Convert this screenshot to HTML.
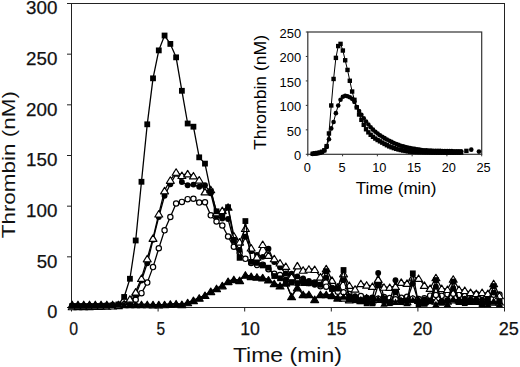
<!DOCTYPE html>
<html><head><meta charset="utf-8"><title>Thrombin generation</title>
<style>html,body{margin:0;padding:0;background:#fff;width:520px;height:367px;overflow:hidden}svg{display:block}text{font-family:"Liberation Sans",sans-serif}</style>
</head><body>
<svg width="520" height="367" viewBox="0 0 520 367" font-family="Liberation Sans, sans-serif" fill="#000">
<rect width="520" height="367" fill="#fff"/>
<rect x="71.5" y="3.5" width="433.0" height="304.0" fill="none" stroke="#222" stroke-width="1"/><line x1="67" y1="307.5" x2="71.5" y2="307.5" stroke="#222" stroke-width="1"/><line x1="67" y1="256.83" x2="71.5" y2="256.83" stroke="#222" stroke-width="1"/><line x1="67" y1="206.17" x2="71.5" y2="206.17" stroke="#222" stroke-width="1"/><line x1="67" y1="155.5" x2="71.5" y2="155.5" stroke="#222" stroke-width="1"/><line x1="67" y1="104.83" x2="71.5" y2="104.83" stroke="#222" stroke-width="1"/><line x1="67" y1="54.17" x2="71.5" y2="54.17" stroke="#222" stroke-width="1"/><line x1="67" y1="3.5" x2="71.5" y2="3.5" stroke="#222" stroke-width="1"/><line x1="71.5" y1="307.5" x2="71.5" y2="311.5" stroke="#222" stroke-width="1"/><line x1="158.1" y1="307.5" x2="158.1" y2="311.5" stroke="#222" stroke-width="1"/><line x1="244.7" y1="307.5" x2="244.7" y2="311.5" stroke="#222" stroke-width="1"/><line x1="331.3" y1="307.5" x2="331.3" y2="311.5" stroke="#222" stroke-width="1"/><line x1="417.9" y1="307.5" x2="417.9" y2="311.5" stroke="#222" stroke-width="1"/><line x1="504.5" y1="307.5" x2="504.5" y2="311.5" stroke="#222" stroke-width="1"/>
<polyline points="72.19,304.46 77.97,304.46 83.74,304.46 89.51,304.46 95.29,304.46 101.06,304.46 106.83,304.46 112.61,304.46 118.38,304.46 124.15,304.46 129.93,304.46 135.7,304.46 141.47,304.46 147.25,304.49 153.02,304.54 158.79,304.56 164.57,304.5 170.34,304.05 176.11,303.71 181.89,304.41 187.66,302.51 193.43,300.38 199.21,297.93 204.98,295.24 210.75,291.3 216.53,288.43 222.3,285.54 228.07,281.3 233.85,279.43 239.62,280.34 245.39,274.99 251.17,276.37 256.94,276.97 262.71,277.67 268.49,279.76 274.26,283.44 280.03,285.71 285.81,282.83 291.58,296.45 297.35,287.66 303.13,294.43 308.9,294.43 314.67,299.29 320.45,294.43 326.22,294.43 331.99,295.34 337.77,297.89 343.54,297.84 349.31,299.56 355.09,297.36 360.86,300.41 366.63,297.71 372.41,299.55 378.18,299.13 383.95,298.57 389.73,299.63 395.5,300.57 401.27,301.06 407.05,301.53 412.82,298.9 418.59,300.14 424.37,301.33 430.14,298.45 435.91,300.95 441.69,300.42 447.46,300.93 453.23,299.62 459.01,299.86 464.78,299.81 470.55,301.2 476.33,301.15 482.1,301.31 487.87,301.03 493.65,301.8 499.42,301.74" fill="none" stroke="#000" stroke-width="1.3" stroke-linejoin="round"/><g fill="#fff" stroke="#000" stroke-width="1.2" stroke-linejoin="round"><path d="M72.19,301.22L76.14,307.7L68.24,307.7Z"/><path d="M77.97,301.22L81.92,307.7L74.02,307.7Z"/><path d="M83.74,301.22L87.69,307.7L79.79,307.7Z"/><path d="M89.51,301.22L93.46,307.7L85.56,307.7Z"/><path d="M95.29,301.22L99.24,307.7L91.34,307.7Z"/><path d="M101.06,301.22L105.01,307.7L97.11,307.7Z"/><path d="M106.83,301.22L110.78,307.7L102.88,307.7Z"/><path d="M112.61,301.22L116.56,307.7L108.66,307.7Z"/><path d="M118.38,301.22L122.33,307.7L114.43,307.7Z"/><path d="M124.15,301.22L128.1,307.7L120.2,307.7Z"/><path d="M129.93,301.22L133.88,307.7L125.98,307.7Z"/><path d="M135.7,301.22L139.65,307.7L131.75,307.7Z"/><path d="M141.47,301.22L145.42,307.7L137.52,307.7Z"/><path d="M147.25,301.25L151.2,307.73L143.3,307.73Z"/><path d="M153.02,301.3L156.97,307.78L149.07,307.78Z"/><path d="M158.79,301.32L162.74,307.8L154.84,307.8Z"/><path d="M164.57,301.26L168.52,307.74L160.62,307.74Z"/><path d="M170.34,300.81L174.29,307.29L166.39,307.29Z"/><path d="M176.11,300.47L180.06,306.95L172.16,306.95Z"/><path d="M181.89,301.17L185.84,307.65L177.94,307.65Z"/><path d="M187.66,299.27L191.61,305.75L183.71,305.75Z"/><path d="M193.43,297.14L197.38,303.62L189.48,303.62Z"/><path d="M199.21,294.69L203.16,301.17L195.26,301.17Z"/><path d="M204.98,292.01L208.93,298.48L201.03,298.48Z"/><path d="M210.75,288.06L214.7,294.54L206.8,294.54Z"/><path d="M216.53,285.2L220.48,291.67L212.58,291.67Z"/><path d="M222.3,282.3L226.25,288.78L218.35,288.78Z"/><path d="M228.07,278.06L232.02,284.54L224.12,284.54Z"/><path d="M233.85,276.19L237.8,282.67L229.9,282.67Z"/><path d="M239.62,277.1L243.57,283.58L235.67,283.58Z"/><path d="M245.39,271.75L249.34,278.23L241.44,278.23Z"/><path d="M251.17,273.13L255.12,279.61L247.22,279.61Z"/><path d="M256.94,273.73L260.89,280.21L252.99,280.21Z"/><path d="M262.71,274.43L266.66,280.91L258.76,280.91Z"/><path d="M268.49,276.52L272.44,283L264.54,283Z"/><path d="M274.26,280.2L278.21,286.68L270.31,286.68Z"/><path d="M280.03,282.47L283.98,288.95L276.08,288.95Z"/><path d="M285.81,279.59L289.76,286.07L281.86,286.07Z"/><path d="M291.58,293.21L295.53,299.69L287.63,299.69Z"/><path d="M297.35,284.42L301.3,290.89L293.4,290.89Z"/><path d="M303.13,291.19L307.08,297.67L299.18,297.67Z"/><path d="M308.9,291.19L312.85,297.67L304.95,297.67Z"/><path d="M314.67,296.05L318.62,302.53L310.72,302.53Z"/><path d="M320.45,291.19L324.4,297.67L316.5,297.67Z"/><path d="M326.22,291.19L330.17,297.67L322.27,297.67Z"/><path d="M331.99,292.1L335.94,298.58L328.04,298.58Z"/><path d="M337.77,294.65L341.72,301.12L333.82,301.12Z"/><path d="M343.54,294.6L347.49,301.08L339.59,301.08Z"/><path d="M349.31,296.32L353.26,302.8L345.36,302.8Z"/><path d="M355.09,294.13L359.04,300.6L351.14,300.6Z"/><path d="M360.86,297.17L364.81,303.64L356.91,303.64Z"/><path d="M366.63,294.47L370.58,300.95L362.68,300.95Z"/><path d="M372.41,296.31L376.36,302.79L368.46,302.79Z"/><path d="M378.18,295.89L382.13,302.37L374.23,302.37Z"/><path d="M383.95,295.33L387.9,301.81L380,301.81Z"/><path d="M389.73,296.39L393.68,302.87L385.78,302.87Z"/><path d="M395.5,297.33L399.45,303.81L391.55,303.81Z"/><path d="M401.27,297.82L405.22,304.29L397.32,304.29Z"/><path d="M407.05,298.29L411,304.77L403.1,304.77Z"/><path d="M412.82,295.66L416.77,302.14L408.87,302.14Z"/><path d="M418.59,296.9L422.54,303.38L414.64,303.38Z"/><path d="M424.37,298.09L428.32,304.57L420.42,304.57Z"/><path d="M430.14,295.21L434.09,301.69L426.19,301.69Z"/><path d="M435.91,297.71L439.86,304.18L431.96,304.18Z"/><path d="M441.69,297.18L445.64,303.66L437.74,303.66Z"/><path d="M447.46,297.7L451.41,304.17L443.51,304.17Z"/><path d="M453.23,296.38L457.18,302.86L449.28,302.86Z"/><path d="M459.01,296.62L462.96,303.1L455.06,303.1Z"/><path d="M464.78,296.57L468.73,303.05L460.83,303.05Z"/><path d="M470.55,297.96L474.5,304.44L466.6,304.44Z"/><path d="M476.33,297.91L480.28,304.39L472.38,304.39Z"/><path d="M482.1,298.07L486.05,304.55L478.15,304.55Z"/><path d="M487.87,297.8L491.82,304.27L483.92,304.27Z"/><path d="M493.65,298.56L497.6,305.04L489.7,305.04Z"/><path d="M499.42,298.5L503.37,304.98L495.47,304.98Z"/></g><polyline points="72.19,306.49 77.97,306.47 83.74,306.43 89.51,306.36 95.29,306.25 101.06,306.11 106.83,305.94 112.61,305.72 118.38,305.47 124.15,304.5 129.93,302.41 135.7,299.75 141.47,293.13 147.25,282.61 153.02,267.12 158.79,248.22 164.57,230.33 170.34,217.04 176.11,203.43 181.89,201.92 187.66,199.17 193.43,198.78 199.21,202.6 204.98,202.21 210.75,215.34 216.53,221.52 222.3,225.53 228.07,236.57 233.85,246.78 239.62,252.72 245.39,258.86 251.17,262.94 256.94,264.94 262.71,264.86 268.49,269.2 274.26,273.87 280.03,275.03 285.81,275.02 291.58,276.49 297.35,280.64 303.13,281.34 308.9,282.96 314.67,282.41 320.45,286.23 326.22,286.66 331.99,287.89 337.77,291.63 343.54,292.2 349.31,294.1 355.09,297.45 360.86,296.1 366.63,297.89 372.41,297.73 378.18,298.63 383.95,297.09 389.73,298.11 395.5,299.26 401.27,297.69 407.05,296.74 412.82,298.66 418.59,299 424.37,298.19 430.14,295.65 435.91,295.07 441.69,295.83 447.46,294.32 453.23,293.66 459.01,294.89 464.78,295.98 470.55,293.7 476.33,294.09 482.1,294.89 487.87,295.44 493.65,294.71 499.42,294.45" fill="none" stroke="#000" stroke-width="1.3" stroke-linejoin="round"/><g fill="#fff" stroke="#000" stroke-width="1.2"><circle cx="72.19" cy="306.49" r="2.65"/><circle cx="77.97" cy="306.47" r="2.65"/><circle cx="83.74" cy="306.43" r="2.65"/><circle cx="89.51" cy="306.36" r="2.65"/><circle cx="95.29" cy="306.25" r="2.65"/><circle cx="101.06" cy="306.11" r="2.65"/><circle cx="106.83" cy="305.94" r="2.65"/><circle cx="112.61" cy="305.72" r="2.65"/><circle cx="118.38" cy="305.47" r="2.65"/><circle cx="124.15" cy="304.5" r="2.65"/><circle cx="129.93" cy="302.41" r="2.65"/><circle cx="135.7" cy="299.75" r="2.65"/><circle cx="141.47" cy="293.13" r="2.65"/><circle cx="147.25" cy="282.61" r="2.65"/><circle cx="153.02" cy="267.12" r="2.65"/><circle cx="158.79" cy="248.22" r="2.65"/><circle cx="164.57" cy="230.33" r="2.65"/><circle cx="170.34" cy="217.04" r="2.65"/><circle cx="176.11" cy="203.43" r="2.65"/><circle cx="181.89" cy="201.92" r="2.65"/><circle cx="187.66" cy="199.17" r="2.65"/><circle cx="193.43" cy="198.78" r="2.65"/><circle cx="199.21" cy="202.6" r="2.65"/><circle cx="204.98" cy="202.21" r="2.65"/><circle cx="210.75" cy="215.34" r="2.65"/><circle cx="216.53" cy="221.52" r="2.65"/><circle cx="222.3" cy="225.53" r="2.65"/><circle cx="228.07" cy="236.57" r="2.65"/><circle cx="233.85" cy="246.78" r="2.65"/><circle cx="239.62" cy="252.72" r="2.65"/><circle cx="245.39" cy="258.86" r="2.65"/><circle cx="251.17" cy="262.94" r="2.65"/><circle cx="256.94" cy="264.94" r="2.65"/><circle cx="262.71" cy="264.86" r="2.65"/><circle cx="268.49" cy="269.2" r="2.65"/><circle cx="274.26" cy="273.87" r="2.65"/><circle cx="280.03" cy="275.03" r="2.65"/><circle cx="285.81" cy="275.02" r="2.65"/><circle cx="291.58" cy="276.49" r="2.65"/><circle cx="297.35" cy="280.64" r="2.65"/><circle cx="303.13" cy="281.34" r="2.65"/><circle cx="308.9" cy="282.96" r="2.65"/><circle cx="314.67" cy="282.41" r="2.65"/><circle cx="320.45" cy="286.23" r="2.65"/><circle cx="326.22" cy="286.66" r="2.65"/><circle cx="331.99" cy="287.89" r="2.65"/><circle cx="337.77" cy="291.63" r="2.65"/><circle cx="343.54" cy="292.2" r="2.65"/><circle cx="349.31" cy="294.1" r="2.65"/><circle cx="355.09" cy="297.45" r="2.65"/><circle cx="360.86" cy="296.1" r="2.65"/><circle cx="366.63" cy="297.89" r="2.65"/><circle cx="372.41" cy="297.73" r="2.65"/><circle cx="378.18" cy="298.63" r="2.65"/><circle cx="383.95" cy="297.09" r="2.65"/><circle cx="389.73" cy="298.11" r="2.65"/><circle cx="395.5" cy="299.26" r="2.65"/><circle cx="401.27" cy="297.69" r="2.65"/><circle cx="407.05" cy="296.74" r="2.65"/><circle cx="412.82" cy="298.66" r="2.65"/><circle cx="418.59" cy="299" r="2.65"/><circle cx="424.37" cy="298.19" r="2.65"/><circle cx="430.14" cy="295.65" r="2.65"/><circle cx="435.91" cy="295.07" r="2.65"/><circle cx="441.69" cy="295.83" r="2.65"/><circle cx="447.46" cy="294.32" r="2.65"/><circle cx="453.23" cy="293.66" r="2.65"/><circle cx="459.01" cy="294.89" r="2.65"/><circle cx="464.78" cy="295.98" r="2.65"/><circle cx="470.55" cy="293.7" r="2.65"/><circle cx="476.33" cy="294.09" r="2.65"/><circle cx="482.1" cy="294.89" r="2.65"/><circle cx="487.87" cy="295.44" r="2.65"/><circle cx="493.65" cy="294.71" r="2.65"/><circle cx="499.42" cy="294.45" r="2.65"/></g><polyline points="72.19,306.49 77.97,306.47 83.74,306.43 89.51,306.36 95.29,306.25 101.06,306.11 106.83,305.94 112.61,305.72 118.38,305.47 124.15,304.5 129.93,301.38 135.7,294.69 141.47,280.61 147.25,263.31 153.02,239.84 158.79,216.96 164.57,195.73 170.34,184.26 176.11,173.74 181.89,182.04 187.66,185.18 193.43,184.59 199.21,186.81 204.98,185.2 210.75,193.2 216.53,216.62 222.3,218.43 228.07,219 233.85,240.88 239.62,249.98 245.39,236.71 251.17,251.13 256.94,254.86 262.71,256.83 268.49,248.65 274.26,262.05 280.03,267.29 285.81,273.46 291.58,273.78 297.35,276.41 303.13,278.54 308.9,280.98 314.67,284.68 320.45,284.62 326.22,277.71 331.99,288.41 337.77,288.67 343.54,280.14 349.31,296.18 355.09,296.3 360.86,299.97 366.63,297.95 372.41,297.89 378.18,273.05 383.95,298.14 389.73,302.03 395.5,280.14 401.27,302.1 407.05,300.26 412.82,283.48 418.59,301.79 424.37,299.36 430.14,301.14 435.91,286.63 441.69,300.93 447.46,300.18 453.23,288.15 459.01,300.9 464.78,298.68 470.55,299.48 476.33,299.37 482.1,299.97 487.87,297.91 493.65,292.6 499.42,301.1" fill="none" stroke="#000" stroke-width="1.3" stroke-linejoin="round"/><g fill="#000"><circle cx="72.19" cy="306.49" r="2.95"/><circle cx="77.97" cy="306.47" r="2.95"/><circle cx="83.74" cy="306.43" r="2.95"/><circle cx="89.51" cy="306.36" r="2.95"/><circle cx="95.29" cy="306.25" r="2.95"/><circle cx="101.06" cy="306.11" r="2.95"/><circle cx="106.83" cy="305.94" r="2.95"/><circle cx="112.61" cy="305.72" r="2.95"/><circle cx="118.38" cy="305.47" r="2.95"/><circle cx="124.15" cy="304.5" r="2.95"/><circle cx="129.93" cy="301.38" r="2.95"/><circle cx="135.7" cy="294.69" r="2.95"/><circle cx="141.47" cy="280.61" r="2.95"/><circle cx="147.25" cy="263.31" r="2.95"/><circle cx="153.02" cy="239.84" r="2.95"/><circle cx="158.79" cy="216.96" r="2.95"/><circle cx="164.57" cy="195.73" r="2.95"/><circle cx="170.34" cy="184.26" r="2.95"/><circle cx="176.11" cy="173.74" r="2.95"/><circle cx="181.89" cy="182.04" r="2.95"/><circle cx="187.66" cy="185.18" r="2.95"/><circle cx="193.43" cy="184.59" r="2.95"/><circle cx="199.21" cy="186.81" r="2.95"/><circle cx="204.98" cy="185.2" r="2.95"/><circle cx="210.75" cy="193.2" r="2.95"/><circle cx="216.53" cy="216.62" r="2.95"/><circle cx="222.3" cy="218.43" r="2.95"/><circle cx="228.07" cy="219" r="2.95"/><circle cx="233.85" cy="240.88" r="2.95"/><circle cx="239.62" cy="249.98" r="2.95"/><circle cx="245.39" cy="236.71" r="2.95"/><circle cx="251.17" cy="251.13" r="2.95"/><circle cx="256.94" cy="254.86" r="2.95"/><circle cx="262.71" cy="256.83" r="2.95"/><circle cx="268.49" cy="248.65" r="2.95"/><circle cx="274.26" cy="262.05" r="2.95"/><circle cx="280.03" cy="267.29" r="2.95"/><circle cx="285.81" cy="273.46" r="2.95"/><circle cx="291.58" cy="273.78" r="2.95"/><circle cx="297.35" cy="276.41" r="2.95"/><circle cx="303.13" cy="278.54" r="2.95"/><circle cx="308.9" cy="280.98" r="2.95"/><circle cx="314.67" cy="284.68" r="2.95"/><circle cx="320.45" cy="284.62" r="2.95"/><circle cx="326.22" cy="277.71" r="2.95"/><circle cx="331.99" cy="288.41" r="2.95"/><circle cx="337.77" cy="288.67" r="2.95"/><circle cx="343.54" cy="280.14" r="2.95"/><circle cx="349.31" cy="296.18" r="2.95"/><circle cx="355.09" cy="296.3" r="2.95"/><circle cx="360.86" cy="299.97" r="2.95"/><circle cx="366.63" cy="297.95" r="2.95"/><circle cx="372.41" cy="297.89" r="2.95"/><circle cx="378.18" cy="273.05" r="2.95"/><circle cx="383.95" cy="298.14" r="2.95"/><circle cx="389.73" cy="302.03" r="2.95"/><circle cx="395.5" cy="280.14" r="2.95"/><circle cx="401.27" cy="302.1" r="2.95"/><circle cx="407.05" cy="300.26" r="2.95"/><circle cx="412.82" cy="283.48" r="2.95"/><circle cx="418.59" cy="301.79" r="2.95"/><circle cx="424.37" cy="299.36" r="2.95"/><circle cx="430.14" cy="301.14" r="2.95"/><circle cx="435.91" cy="286.63" r="2.95"/><circle cx="441.69" cy="300.93" r="2.95"/><circle cx="447.46" cy="300.18" r="2.95"/><circle cx="453.23" cy="288.15" r="2.95"/><circle cx="459.01" cy="300.9" r="2.95"/><circle cx="464.78" cy="298.68" r="2.95"/><circle cx="470.55" cy="299.48" r="2.95"/><circle cx="476.33" cy="299.37" r="2.95"/><circle cx="482.1" cy="299.97" r="2.95"/><circle cx="487.87" cy="297.91" r="2.95"/><circle cx="493.65" cy="292.6" r="2.95"/><circle cx="499.42" cy="301.1" r="2.95"/></g><polyline points="72.19,306.49 77.97,306.47 83.74,306.44 89.51,306.37 95.29,306.28 101.06,306.14 106.83,305.96 112.61,305.74 118.38,305.47 124.15,303.73 129.93,298.93 135.7,291.86 141.47,278.2 147.25,258.57 153.02,238.12 158.79,213.78 164.57,190.55 170.34,180.04 176.11,172.02 181.89,175.25 187.66,173.64 193.43,175.7 199.21,179.8 204.98,191.59 210.75,189.46 216.53,212.63 222.3,210.35 228.07,207 233.85,235.72 239.62,241.8 245.39,228.26 251.17,247.76 256.94,256.84 262.71,244.26 268.49,255.16 274.26,258.52 280.03,262.78 285.81,266.21 291.58,276.56 297.35,265.66 303.13,269.99 308.9,268.99 314.67,269.25 320.45,276.79 326.22,268.59 331.99,280.1 337.77,286.77 343.54,273.55 349.31,285.21 355.09,288.95 360.86,283.49 366.63,284.96 372.41,286.22 378.18,279.13 383.95,287.03 389.73,287.23 395.5,286.22 401.27,282.17 407.05,283.15 412.82,276.9 418.59,278.22 424.37,285.14 430.14,288.23 435.91,277.51 441.69,288.27 447.46,289.25 453.23,279.03 459.01,289.28 464.78,290.24 470.55,292.3 476.33,293.31 482.1,292.3 487.87,293.31 493.65,283.48 499.42,295.52" fill="none" stroke="#000" stroke-width="1.3" stroke-linejoin="round"/><g fill="#fff" stroke="#000" stroke-width="1.2" stroke-linejoin="round"><path d="M72.19,303.25L76.14,309.73L68.24,309.73Z"/><path d="M77.97,303.23L81.92,309.71L74.02,309.71Z"/><path d="M83.74,303.2L87.69,309.68L79.79,309.68Z"/><path d="M89.51,303.13L93.46,309.61L85.56,309.61Z"/><path d="M95.29,303.04L99.24,309.51L91.34,309.51Z"/><path d="M101.06,302.9L105.01,309.38L97.11,309.38Z"/><path d="M106.83,302.73L110.78,309.2L102.88,309.2Z"/><path d="M112.61,302.5L116.56,308.98L108.66,308.98Z"/><path d="M118.38,302.23L122.33,308.71L114.43,308.71Z"/><path d="M124.15,300.49L128.1,306.97L120.2,306.97Z"/><path d="M129.93,295.69L133.88,302.17L125.98,302.17Z"/><path d="M135.7,288.62L139.65,295.1L131.75,295.1Z"/><path d="M141.47,274.96L145.42,281.44L137.52,281.44Z"/><path d="M147.25,255.33L151.2,261.81L143.3,261.81Z"/><path d="M153.02,234.88L156.97,241.36L149.07,241.36Z"/><path d="M158.79,210.55L162.74,217.02L154.84,217.02Z"/><path d="M164.57,187.32L168.52,193.79L160.62,193.79Z"/><path d="M170.34,176.8L174.29,183.28L166.39,183.28Z"/><path d="M176.11,168.78L180.06,175.26L172.16,175.26Z"/><path d="M181.89,172.01L185.84,178.49L177.94,178.49Z"/><path d="M187.66,170.4L191.61,176.88L183.71,176.88Z"/><path d="M193.43,172.46L197.38,178.94L189.48,178.94Z"/><path d="M199.21,176.56L203.16,183.04L195.26,183.04Z"/><path d="M204.98,188.35L208.93,194.83L201.03,194.83Z"/><path d="M210.75,186.22L214.7,192.7L206.8,192.7Z"/><path d="M216.53,209.4L220.48,215.87L212.58,215.87Z"/><path d="M222.3,207.11L226.25,213.59L218.35,213.59Z"/><path d="M228.07,203.76L232.02,210.24L224.12,210.24Z"/><path d="M233.85,232.48L237.8,238.96L229.9,238.96Z"/><path d="M239.62,238.56L243.57,245.04L235.67,245.04Z"/><path d="M245.39,225.02L249.34,231.49L241.44,231.49Z"/><path d="M251.17,244.52L255.12,251L247.22,251Z"/><path d="M256.94,253.6L260.89,260.08L252.99,260.08Z"/><path d="M262.71,241.02L266.66,247.5L258.76,247.5Z"/><path d="M268.49,251.92L272.44,258.4L264.54,258.4Z"/><path d="M274.26,255.28L278.21,261.76L270.31,261.76Z"/><path d="M280.03,259.55L283.98,266.02L276.08,266.02Z"/><path d="M285.81,262.97L289.76,269.45L281.86,269.45Z"/><path d="M291.58,273.32L295.53,279.8L287.63,279.8Z"/><path d="M297.35,262.42L301.3,268.9L293.4,268.9Z"/><path d="M303.13,266.75L307.08,273.23L299.18,273.23Z"/><path d="M308.9,265.75L312.85,272.23L304.95,272.23Z"/><path d="M314.67,266.01L318.62,272.49L310.72,272.49Z"/><path d="M320.45,273.55L324.4,280.03L316.5,280.03Z"/><path d="M326.22,265.35L330.17,271.83L322.27,271.83Z"/><path d="M331.99,276.87L335.94,283.34L328.04,283.34Z"/><path d="M337.77,283.53L341.72,290.01L333.82,290.01Z"/><path d="M343.54,270.31L347.49,276.79L339.59,276.79Z"/><path d="M349.31,281.97L353.26,288.45L345.36,288.45Z"/><path d="M355.09,285.72L359.04,292.19L351.14,292.19Z"/><path d="M360.86,280.25L364.81,286.72L356.91,286.72Z"/><path d="M366.63,281.72L370.58,288.2L362.68,288.2Z"/><path d="M372.41,282.98L376.36,289.46L368.46,289.46Z"/><path d="M378.18,275.89L382.13,282.37L374.23,282.37Z"/><path d="M383.95,283.79L387.9,290.27L380,290.27Z"/><path d="M389.73,283.99L393.68,290.47L385.78,290.47Z"/><path d="M395.5,282.98L399.45,289.46L391.55,289.46Z"/><path d="M401.27,278.93L405.22,285.41L397.32,285.41Z"/><path d="M407.05,279.91L411,286.39L403.1,286.39Z"/><path d="M412.82,273.66L416.77,280.14L408.87,280.14Z"/><path d="M418.59,274.98L422.54,281.45L414.64,281.45Z"/><path d="M424.37,281.9L428.32,288.38L420.42,288.38Z"/><path d="M430.14,285L434.09,291.47L426.19,291.47Z"/><path d="M435.91,274.27L439.86,280.74L431.96,280.74Z"/><path d="M441.69,285.03L445.64,291.5L437.74,291.5Z"/><path d="M447.46,286.01L451.41,292.49L443.51,292.49Z"/><path d="M453.23,275.79L457.18,282.26L449.28,282.26Z"/><path d="M459.01,286.04L462.96,292.52L455.06,292.52Z"/><path d="M464.78,287L468.73,293.48L460.83,293.48Z"/><path d="M470.55,289.06L474.5,295.54L466.6,295.54Z"/><path d="M476.33,290.07L480.28,296.55L472.38,296.55Z"/><path d="M482.1,289.06L486.05,295.54L478.15,295.54Z"/><path d="M487.87,290.07L491.82,296.55L483.92,296.55Z"/><path d="M493.65,280.25L497.6,286.72L489.7,286.72Z"/><path d="M499.42,292.28L503.37,298.76L495.47,298.76Z"/></g><polyline points="72.19,305.98 77.97,305.98 83.74,305.98 89.51,305.98 95.29,305.93 101.06,305.82 106.83,305.65 112.61,305.3 118.38,304.43 124.15,296.96 129.93,278.76 135.7,240.48 141.47,181.78 147.25,124.3 153.02,78.33 158.79,50.38 164.57,35.52 170.34,43.91 176.11,57.34 181.89,90.79 187.66,123.51 193.43,126.69 199.21,157.33 204.98,163.62 210.75,191.37 216.53,211.31 222.3,216.3 228.07,207.18 233.85,239.84 239.62,257.84 245.39,221.06 251.17,261.92 256.94,262.9 262.71,265.44 268.49,267.69 274.26,276.05 280.03,278.3 285.81,280.27 291.58,282.6 297.35,283.06 303.13,283.11 308.9,283.3 314.67,282.94 320.45,284.7 326.22,271.12 331.99,289.03 337.77,288.01 343.54,270.01 349.31,296.68 355.09,300.27 360.86,301.19 366.63,303.33 372.41,303.41 378.18,285.21 383.95,300.54 389.73,303.19 395.5,292.3 401.27,300.91 407.05,300.83 412.82,273.35 418.59,304.3 424.37,303.77 430.14,300.9 435.91,280.04 441.69,302.75 447.46,300.58 453.23,281.56 459.01,301.66 464.78,303.18 470.55,301.68 476.33,301.08 482.1,304.39 487.87,301.42 493.65,286.02 499.42,301.43" fill="none" stroke="#000" stroke-width="1.3" stroke-linejoin="round"/><g fill="#000"><rect x="69.29" y="303.08" width="5.8" height="5.8"/><rect x="75.07" y="303.08" width="5.8" height="5.8"/><rect x="80.84" y="303.08" width="5.8" height="5.8"/><rect x="86.61" y="303.08" width="5.8" height="5.8"/><rect x="92.39" y="303.03" width="5.8" height="5.8"/><rect x="98.16" y="302.92" width="5.8" height="5.8"/><rect x="103.93" y="302.75" width="5.8" height="5.8"/><rect x="109.71" y="302.4" width="5.8" height="5.8"/><rect x="115.48" y="301.53" width="5.8" height="5.8"/><rect x="121.25" y="294.06" width="5.8" height="5.8"/><rect x="127.03" y="275.86" width="5.8" height="5.8"/><rect x="132.8" y="237.58" width="5.8" height="5.8"/><rect x="138.57" y="178.88" width="5.8" height="5.8"/><rect x="144.35" y="121.4" width="5.8" height="5.8"/><rect x="150.12" y="75.43" width="5.8" height="5.8"/><rect x="155.89" y="47.48" width="5.8" height="5.8"/><rect x="161.67" y="32.62" width="5.8" height="5.8"/><rect x="167.44" y="41.01" width="5.8" height="5.8"/><rect x="173.21" y="54.44" width="5.8" height="5.8"/><rect x="178.99" y="87.89" width="5.8" height="5.8"/><rect x="184.76" y="120.61" width="5.8" height="5.8"/><rect x="190.53" y="123.79" width="5.8" height="5.8"/><rect x="196.31" y="154.43" width="5.8" height="5.8"/><rect x="202.08" y="160.72" width="5.8" height="5.8"/><rect x="207.85" y="188.47" width="5.8" height="5.8"/><rect x="213.63" y="208.41" width="5.8" height="5.8"/><rect x="219.4" y="213.4" width="5.8" height="5.8"/><rect x="225.17" y="204.28" width="5.8" height="5.8"/><rect x="230.95" y="236.94" width="5.8" height="5.8"/><rect x="236.72" y="254.94" width="5.8" height="5.8"/><rect x="242.49" y="218.16" width="5.8" height="5.8"/><rect x="248.27" y="259.02" width="5.8" height="5.8"/><rect x="254.04" y="260" width="5.8" height="5.8"/><rect x="259.81" y="262.54" width="5.8" height="5.8"/><rect x="265.59" y="264.79" width="5.8" height="5.8"/><rect x="271.36" y="273.15" width="5.8" height="5.8"/><rect x="277.13" y="275.4" width="5.8" height="5.8"/><rect x="282.91" y="277.37" width="5.8" height="5.8"/><rect x="288.68" y="279.7" width="5.8" height="5.8"/><rect x="294.45" y="280.16" width="5.8" height="5.8"/><rect x="300.23" y="280.21" width="5.8" height="5.8"/><rect x="306" y="280.4" width="5.8" height="5.8"/><rect x="311.77" y="280.04" width="5.8" height="5.8"/><rect x="317.55" y="281.8" width="5.8" height="5.8"/><rect x="323.32" y="268.22" width="5.8" height="5.8"/><rect x="329.09" y="286.13" width="5.8" height="5.8"/><rect x="334.87" y="285.11" width="5.8" height="5.8"/><rect x="340.64" y="267.11" width="5.8" height="5.8"/><rect x="346.41" y="293.78" width="5.8" height="5.8"/><rect x="352.19" y="297.37" width="5.8" height="5.8"/><rect x="357.96" y="298.29" width="5.8" height="5.8"/><rect x="363.73" y="300.43" width="5.8" height="5.8"/><rect x="369.51" y="300.51" width="5.8" height="5.8"/><rect x="375.28" y="282.31" width="5.8" height="5.8"/><rect x="381.05" y="297.64" width="5.8" height="5.8"/><rect x="386.83" y="300.29" width="5.8" height="5.8"/><rect x="392.6" y="289.4" width="5.8" height="5.8"/><rect x="398.37" y="298.01" width="5.8" height="5.8"/><rect x="404.15" y="297.93" width="5.8" height="5.8"/><rect x="409.92" y="270.45" width="5.8" height="5.8"/><rect x="415.69" y="301.4" width="5.8" height="5.8"/><rect x="421.47" y="300.87" width="5.8" height="5.8"/><rect x="427.24" y="298" width="5.8" height="5.8"/><rect x="433.01" y="277.14" width="5.8" height="5.8"/><rect x="438.79" y="299.85" width="5.8" height="5.8"/><rect x="444.56" y="297.68" width="5.8" height="5.8"/><rect x="450.33" y="278.66" width="5.8" height="5.8"/><rect x="456.11" y="298.76" width="5.8" height="5.8"/><rect x="461.88" y="300.28" width="5.8" height="5.8"/><rect x="467.65" y="298.78" width="5.8" height="5.8"/><rect x="473.43" y="298.18" width="5.8" height="5.8"/><rect x="479.2" y="301.49" width="5.8" height="5.8"/><rect x="484.97" y="298.52" width="5.8" height="5.8"/><rect x="490.75" y="283.12" width="5.8" height="5.8"/><rect x="496.52" y="298.53" width="5.8" height="5.8"/></g><polyline points="72.19,304.46 77.97,304.46 83.74,304.46 89.51,304.46 95.29,304.46 101.06,304.46 106.83,304.46 112.61,304.46 118.38,304.46 124.15,304.46 129.93,304.46 135.7,304.46 141.47,304.46 147.25,304.49 153.02,304.54 158.79,304.56 164.57,304.5 170.34,304.05 176.11,303.71 181.89,304.41 187.66,302.51 193.43,300.38 199.21,297.93 204.98,295.24 210.75,291.3 216.53,288.43 222.3,285.54 228.07,281.3 233.85,279.43 239.62,280.34 245.39,274.99 251.17,276.37 256.94,276.97 262.71,277.67 268.49,279.76 274.26,283.44 280.03,285.71 285.81,282.83 291.58,296.45 297.35,287.66 303.13,294.43 308.9,294.43 314.67,299.29 320.45,294.43 326.22,294.43 331.99,295.34 337.77,297.89 343.54,296.46 349.31,299.15 355.09,297.44 360.86,299.09 366.63,299.43 372.41,302.06 378.18,298.36 383.95,303.44 389.73,302.4 395.5,301.68 401.27,300 407.05,302.95 412.82,299.58 418.59,298.97 424.37,303.12 430.14,300.93 435.91,303.91 441.69,301.99 447.46,303.73 453.23,299.11 459.01,301.74 464.78,299.15 470.55,299.97 476.33,299.68 482.1,303.41 487.87,304.1 493.65,301.59 499.42,303.94" fill="none" stroke="#000" stroke-width="1.3" stroke-linejoin="round"/><g fill="#000"><path d="M72.19,301.24L75.89,307.68L68.49,307.68Z"/><path d="M77.97,301.24L81.67,307.68L74.27,307.68Z"/><path d="M83.74,301.24L87.44,307.68L80.04,307.68Z"/><path d="M89.51,301.24L93.21,307.68L85.81,307.68Z"/><path d="M95.29,301.24L98.99,307.68L91.59,307.68Z"/><path d="M101.06,301.24L104.76,307.68L97.36,307.68Z"/><path d="M106.83,301.24L110.53,307.68L103.13,307.68Z"/><path d="M112.61,301.24L116.31,307.68L108.91,307.68Z"/><path d="M118.38,301.24L122.08,307.68L114.68,307.68Z"/><path d="M124.15,301.24L127.85,307.68L120.45,307.68Z"/><path d="M129.93,301.24L133.63,307.68L126.23,307.68Z"/><path d="M135.7,301.24L139.4,307.68L132,307.68Z"/><path d="M141.47,301.24L145.17,307.68L137.77,307.68Z"/><path d="M147.25,301.27L150.95,307.71L143.55,307.71Z"/><path d="M153.02,301.32L156.72,307.76L149.32,307.76Z"/><path d="M158.79,301.34L162.49,307.78L155.09,307.78Z"/><path d="M164.57,301.28L168.27,307.72L160.87,307.72Z"/><path d="M170.34,300.83L174.04,307.27L166.64,307.27Z"/><path d="M176.11,300.49L179.81,306.93L172.41,306.93Z"/><path d="M181.89,301.19L185.59,307.63L178.19,307.63Z"/><path d="M187.66,299.29L191.36,305.73L183.96,305.73Z"/><path d="M193.43,297.16L197.13,303.6L189.73,303.6Z"/><path d="M199.21,294.71L202.91,301.15L195.51,301.15Z"/><path d="M204.98,292.03L208.68,298.46L201.28,298.46Z"/><path d="M210.75,288.08L214.45,294.52L207.05,294.52Z"/><path d="M216.53,285.22L220.23,291.65L212.83,291.65Z"/><path d="M222.3,282.32L226,288.76L218.6,288.76Z"/><path d="M228.07,278.08L231.77,284.52L224.37,284.52Z"/><path d="M233.85,276.21L237.55,282.65L230.15,282.65Z"/><path d="M239.62,277.12L243.32,283.56L235.92,283.56Z"/><path d="M245.39,271.77L249.09,278.21L241.69,278.21Z"/><path d="M251.17,273.15L254.87,279.59L247.47,279.59Z"/><path d="M256.94,273.75L260.64,280.19L253.24,280.19Z"/><path d="M262.71,274.45L266.41,280.89L259.01,280.89Z"/><path d="M268.49,276.54L272.19,282.98L264.79,282.98Z"/><path d="M274.26,280.22L277.96,286.66L270.56,286.66Z"/><path d="M280.03,282.49L283.73,288.93L276.33,288.93Z"/><path d="M285.81,279.61L289.51,286.05L282.11,286.05Z"/><path d="M291.58,293.23L295.28,299.67L287.88,299.67Z"/><path d="M297.35,284.44L301.05,290.87L293.65,290.87Z"/><path d="M303.13,291.21L306.83,297.65L299.43,297.65Z"/><path d="M308.9,291.21L312.6,297.65L305.2,297.65Z"/><path d="M314.67,296.07L318.37,302.51L310.97,302.51Z"/><path d="M320.45,291.21L324.15,297.65L316.75,297.65Z"/><path d="M326.22,291.21L329.92,297.65L322.52,297.65Z"/><path d="M331.99,292.12L335.69,298.56L328.29,298.56Z"/><path d="M337.77,294.67L341.47,301.1L334.07,301.1Z"/><path d="M343.54,293.24L347.24,299.68L339.84,299.68Z"/><path d="M349.31,295.94L353.01,302.37L345.61,302.37Z"/><path d="M355.09,294.22L358.79,300.66L351.39,300.66Z"/><path d="M360.86,295.87L364.56,302.31L357.16,302.31Z"/><path d="M366.63,296.21L370.33,302.65L362.93,302.65Z"/><path d="M372.41,298.84L376.11,305.28L368.71,305.28Z"/><path d="M378.18,295.14L381.88,301.58L374.48,301.58Z"/><path d="M383.95,300.22L387.65,306.66L380.25,306.66Z"/><path d="M389.73,299.18L393.43,305.62L386.03,305.62Z"/><path d="M395.5,298.46L399.2,304.89L391.8,304.89Z"/><path d="M401.27,296.79L404.97,303.22L397.57,303.22Z"/><path d="M407.05,299.73L410.75,306.17L403.35,306.17Z"/><path d="M412.82,296.36L416.52,302.8L409.12,302.8Z"/><path d="M418.59,295.75L422.29,302.19L414.89,302.19Z"/><path d="M424.37,299.9L428.07,306.34L420.67,306.34Z"/><path d="M430.14,297.71L433.84,304.15L426.44,304.15Z"/><path d="M435.91,300.69L439.61,307.13L432.21,307.13Z"/><path d="M441.69,298.78L445.39,305.21L437.99,305.21Z"/><path d="M447.46,300.51L451.16,306.95L443.76,306.95Z"/><path d="M453.23,295.89L456.93,302.33L449.53,302.33Z"/><path d="M459.01,298.52L462.71,304.96L455.31,304.96Z"/><path d="M464.78,295.93L468.48,302.36L461.08,302.36Z"/><path d="M470.55,296.75L474.25,303.19L466.85,303.19Z"/><path d="M476.33,296.46L480.03,302.9L472.63,302.9Z"/><path d="M482.1,300.19L485.8,306.63L478.4,306.63Z"/><path d="M487.87,300.88L491.57,307.32L484.17,307.32Z"/><path d="M493.65,298.37L497.35,304.81L489.95,304.81Z"/><path d="M499.42,300.72L503.12,307.16L495.72,307.16Z"/></g>
<rect x="307.8" y="32.0" width="173.9" height="122.3" fill="#fff" stroke="#333" stroke-width="1.2"/><line x1="305.8" y1="154.3" x2="307.8" y2="154.3" stroke="#333" stroke-width="1"/><line x1="305.8" y1="129.84" x2="307.8" y2="129.84" stroke="#333" stroke-width="1"/><line x1="305.8" y1="105.38" x2="307.8" y2="105.38" stroke="#333" stroke-width="1"/><line x1="305.8" y1="80.92" x2="307.8" y2="80.92" stroke="#333" stroke-width="1"/><line x1="305.8" y1="56.46" x2="307.8" y2="56.46" stroke="#333" stroke-width="1"/><line x1="305.8" y1="32" x2="307.8" y2="32" stroke="#333" stroke-width="1"/><line x1="307.8" y1="154.3" x2="307.8" y2="156.3" stroke="#333" stroke-width="1"/><line x1="342.58" y1="154.3" x2="342.58" y2="156.3" stroke="#333" stroke-width="1"/><line x1="377.36" y1="154.3" x2="377.36" y2="156.3" stroke="#333" stroke-width="1"/><line x1="412.14" y1="154.3" x2="412.14" y2="156.3" stroke="#333" stroke-width="1"/><line x1="446.92" y1="154.3" x2="446.92" y2="156.3" stroke="#333" stroke-width="1"/><line x1="481.7" y1="154.3" x2="481.7" y2="156.3" stroke="#333" stroke-width="1"/><polyline points="312.72,153.92 315.03,153.79 317.35,153.5 319.67,152.98 321.99,152.23 324.31,150.57 326.63,146.9 328.95,139.31 331.26,128.41 333.58,121.95 335.9,113.15 338.22,105.57 340.54,99.82 342.86,96.72 345.18,95.71 347.5,96.23 349.81,97.18 352.13,98.86 354.45,101.94 356.77,106.95 359.09,111.12 361.41,114.68 363.73,118.2 366.04,121.5 368.36,124.54 370.68,127.27 373,129.67 375.32,131.74 377.64,133.57 379.96,135.22 382.28,136.75 384.59,138.16 386.91,139.47 389.23,140.72 391.55,141.9 393.87,142.96 396.19,143.96 398.51,144.89 400.82,145.71 403.14,146.4 405.46,147.01 407.78,147.56 410.1,148.05 412.42,148.48 414.74,148.89 417.06,149.29 419.37,149.66 421.69,149.98 424.01,150.23 426.33,150.4 428.65,150.52 430.97,150.61 433.29,150.69 435.6,150.76 437.92,150.82 440.24,150.88 442.56,150.95 444.88,151.01 447.2,151.06 449.52,151.11 451.84,151.17 454.15,151.22 456.47,151.27 458.79,151.32 461.11,151.37" fill="none" stroke="#000" stroke-width="1.0" stroke-linejoin="round"/><g fill="#000"><circle cx="312.72" cy="153.92" r="2.3"/><circle cx="315.03" cy="153.79" r="2.3"/><circle cx="317.35" cy="153.5" r="2.3"/><circle cx="319.67" cy="152.98" r="2.3"/><circle cx="321.99" cy="152.23" r="2.3"/><circle cx="324.31" cy="150.57" r="2.3"/><circle cx="326.63" cy="146.9" r="2.3"/><circle cx="328.95" cy="139.31" r="2.3"/><circle cx="331.26" cy="128.41" r="2.3"/><circle cx="333.58" cy="121.95" r="2.3"/><circle cx="335.9" cy="113.15" r="2.3"/><circle cx="338.22" cy="105.57" r="2.3"/><circle cx="340.54" cy="99.82" r="2.3"/><circle cx="342.86" cy="96.72" r="2.3"/><circle cx="345.18" cy="95.71" r="2.3"/><circle cx="347.5" cy="96.23" r="2.3"/><circle cx="349.81" cy="97.18" r="2.3"/><circle cx="352.13" cy="98.86" r="2.3"/><circle cx="354.45" cy="101.94" r="2.3"/><circle cx="356.77" cy="106.95" r="2.3"/><circle cx="359.09" cy="111.12" r="2.3"/><circle cx="361.41" cy="114.68" r="2.3"/><circle cx="363.73" cy="118.2" r="2.3"/><circle cx="366.04" cy="121.5" r="2.3"/><circle cx="368.36" cy="124.54" r="2.3"/><circle cx="370.68" cy="127.27" r="2.3"/><circle cx="373" cy="129.67" r="2.3"/><circle cx="375.32" cy="131.74" r="2.3"/><circle cx="377.64" cy="133.57" r="2.3"/><circle cx="379.96" cy="135.22" r="2.3"/><circle cx="382.28" cy="136.75" r="2.3"/><circle cx="384.59" cy="138.16" r="2.3"/><circle cx="386.91" cy="139.47" r="2.3"/><circle cx="389.23" cy="140.72" r="2.3"/><circle cx="391.55" cy="141.9" r="2.3"/><circle cx="393.87" cy="142.96" r="2.3"/><circle cx="396.19" cy="143.96" r="2.3"/><circle cx="398.51" cy="144.89" r="2.3"/><circle cx="400.82" cy="145.71" r="2.3"/><circle cx="403.14" cy="146.4" r="2.3"/><circle cx="405.46" cy="147.01" r="2.3"/><circle cx="407.78" cy="147.56" r="2.3"/><circle cx="410.1" cy="148.05" r="2.3"/><circle cx="412.42" cy="148.48" r="2.3"/><circle cx="414.74" cy="148.89" r="2.3"/><circle cx="417.06" cy="149.29" r="2.3"/><circle cx="419.37" cy="149.66" r="2.3"/><circle cx="421.69" cy="149.98" r="2.3"/><circle cx="424.01" cy="150.23" r="2.3"/><circle cx="426.33" cy="150.4" r="2.3"/><circle cx="428.65" cy="150.52" r="2.3"/><circle cx="430.97" cy="150.61" r="2.3"/><circle cx="433.29" cy="150.69" r="2.3"/><circle cx="435.6" cy="150.76" r="2.3"/><circle cx="437.92" cy="150.82" r="2.3"/><circle cx="440.24" cy="150.88" r="2.3"/><circle cx="442.56" cy="150.95" r="2.3"/><circle cx="444.88" cy="151.01" r="2.3"/><circle cx="447.2" cy="151.06" r="2.3"/><circle cx="449.52" cy="151.11" r="2.3"/><circle cx="451.84" cy="151.17" r="2.3"/><circle cx="454.15" cy="151.22" r="2.3"/><circle cx="456.47" cy="151.27" r="2.3"/><circle cx="458.79" cy="151.32" r="2.3"/><circle cx="461.11" cy="151.37" r="2.3"/><circle cx="471.27" cy="149.65" r="2.3"/><circle cx="478.92" cy="151.61" r="2.3"/></g><polyline points="312.72,153.78 315.03,153.28 317.35,152.97 319.67,152.52 321.99,151.74 324.31,150.31 326.63,146.14 328.95,133.46 331.26,105.46 333.58,78.97 335.9,57.87 338.22,46.08 340.54,43.86 342.86,50.53 345.18,60.27 347.5,69.93 349.81,80.77 352.13,91.54 354.45,99.83 356.77,107.41 359.09,114.49 361.41,119.84 363.73,124.83 366.04,129.26 368.36,132.35 370.68,134.79 373,136.81 375.32,138.54 377.64,140.04 379.96,141.36 382.28,142.63 384.59,143.95 386.91,145.23 389.23,146.35 391.55,147.27 393.87,148.11 396.19,148.84 398.51,149.48 400.82,150.03 403.14,150.51 405.46,150.92 407.78,151.32 410.1,151.66 412.42,151.87 414.74,151.99 417.06,152.09 419.37,152.17 421.69,152.24 424.01,152.3 426.33,152.35 428.65,152.41 430.97,152.46 433.29,152.51 435.6,152.55 437.92,152.58 440.24,152.59 442.56,152.59 444.88,152.59 447.2,152.59 449.52,152.59 451.84,152.59 454.15,152.59 456.47,152.59 458.79,152.59 461.11,152.59" fill="none" stroke="#000" stroke-width="1.0" stroke-linejoin="round"/><g fill="#000"><rect x="310.52" y="151.58" width="4.4" height="4.4"/><rect x="312.83" y="151.08" width="4.4" height="4.4"/><rect x="315.15" y="150.77" width="4.4" height="4.4"/><rect x="317.47" y="150.32" width="4.4" height="4.4"/><rect x="319.79" y="149.54" width="4.4" height="4.4"/><rect x="322.11" y="148.11" width="4.4" height="4.4"/><rect x="324.43" y="143.94" width="4.4" height="4.4"/><rect x="326.75" y="131.26" width="4.4" height="4.4"/><rect x="329.06" y="103.26" width="4.4" height="4.4"/><rect x="331.38" y="76.77" width="4.4" height="4.4"/><rect x="333.7" y="55.67" width="4.4" height="4.4"/><rect x="336.02" y="43.88" width="4.4" height="4.4"/><rect x="338.34" y="41.66" width="4.4" height="4.4"/><rect x="340.66" y="48.33" width="4.4" height="4.4"/><rect x="342.98" y="58.07" width="4.4" height="4.4"/><rect x="345.3" y="67.73" width="4.4" height="4.4"/><rect x="347.61" y="78.57" width="4.4" height="4.4"/><rect x="349.93" y="89.34" width="4.4" height="4.4"/><rect x="352.25" y="97.63" width="4.4" height="4.4"/><rect x="354.57" y="105.21" width="4.4" height="4.4"/><rect x="356.89" y="112.29" width="4.4" height="4.4"/><rect x="359.21" y="117.64" width="4.4" height="4.4"/><rect x="361.53" y="122.63" width="4.4" height="4.4"/><rect x="363.84" y="127.06" width="4.4" height="4.4"/><rect x="366.16" y="130.15" width="4.4" height="4.4"/><rect x="368.48" y="132.59" width="4.4" height="4.4"/><rect x="370.8" y="134.61" width="4.4" height="4.4"/><rect x="373.12" y="136.34" width="4.4" height="4.4"/><rect x="375.44" y="137.84" width="4.4" height="4.4"/><rect x="377.76" y="139.16" width="4.4" height="4.4"/><rect x="380.08" y="140.43" width="4.4" height="4.4"/><rect x="382.39" y="141.75" width="4.4" height="4.4"/><rect x="384.71" y="143.03" width="4.4" height="4.4"/><rect x="387.03" y="144.15" width="4.4" height="4.4"/><rect x="389.35" y="145.07" width="4.4" height="4.4"/><rect x="391.67" y="145.91" width="4.4" height="4.4"/><rect x="393.99" y="146.64" width="4.4" height="4.4"/><rect x="396.31" y="147.28" width="4.4" height="4.4"/><rect x="398.62" y="147.83" width="4.4" height="4.4"/><rect x="400.94" y="148.31" width="4.4" height="4.4"/><rect x="403.26" y="148.72" width="4.4" height="4.4"/><rect x="405.58" y="149.12" width="4.4" height="4.4"/><rect x="407.9" y="149.46" width="4.4" height="4.4"/><rect x="410.22" y="149.67" width="4.4" height="4.4"/><rect x="412.54" y="149.79" width="4.4" height="4.4"/><rect x="414.86" y="149.89" width="4.4" height="4.4"/><rect x="417.17" y="149.97" width="4.4" height="4.4"/><rect x="419.49" y="150.04" width="4.4" height="4.4"/><rect x="421.81" y="150.1" width="4.4" height="4.4"/><rect x="424.13" y="150.15" width="4.4" height="4.4"/><rect x="426.45" y="150.21" width="4.4" height="4.4"/><rect x="428.77" y="150.26" width="4.4" height="4.4"/><rect x="431.09" y="150.31" width="4.4" height="4.4"/><rect x="433.4" y="150.35" width="4.4" height="4.4"/><rect x="435.72" y="150.38" width="4.4" height="4.4"/><rect x="438.04" y="150.39" width="4.4" height="4.4"/><rect x="440.36" y="150.39" width="4.4" height="4.4"/><rect x="442.68" y="150.39" width="4.4" height="4.4"/><rect x="445" y="150.39" width="4.4" height="4.4"/><rect x="447.32" y="150.39" width="4.4" height="4.4"/><rect x="449.64" y="150.39" width="4.4" height="4.4"/><rect x="451.95" y="150.39" width="4.4" height="4.4"/><rect x="454.27" y="150.39" width="4.4" height="4.4"/><rect x="456.59" y="150.39" width="4.4" height="4.4"/><rect x="458.91" y="150.39" width="4.4" height="4.4"/><rect x="464.2" y="148.68" width="4.4" height="4.4"/></g><text x="301.2" y="160.1" text-anchor="end" font-size="13" textLength="7.2" lengthAdjust="spacingAndGlyphs">0</text><text x="301.2" y="135.64" text-anchor="end" font-size="13" textLength="14.4" lengthAdjust="spacingAndGlyphs">50</text><text x="301.2" y="111.18" text-anchor="end" font-size="13" textLength="21.6" lengthAdjust="spacingAndGlyphs">100</text><text x="301.2" y="86.72" text-anchor="end" font-size="13" textLength="21.6" lengthAdjust="spacingAndGlyphs">150</text><text x="301.2" y="62.26" text-anchor="end" font-size="13" textLength="21.6" lengthAdjust="spacingAndGlyphs">200</text><text x="301.2" y="37.8" text-anchor="end" font-size="13" textLength="21.6" lengthAdjust="spacingAndGlyphs">250</text><text x="307.2" y="171.8" text-anchor="middle" font-size="12.8">0</text><text x="341.98" y="171.8" text-anchor="middle" font-size="12.8">5</text><text x="379.26" y="171.8" text-anchor="middle" font-size="12.8">10</text><text x="414.04" y="171.8" text-anchor="middle" font-size="12.8">15</text><text x="448.82" y="171.8" text-anchor="middle" font-size="12.8">20</text><text x="483.6" y="171.8" text-anchor="middle" font-size="12.8">25</text><text x="355.8" y="194.2" font-size="16" textLength="80.7" lengthAdjust="spacingAndGlyphs">Time (min)</text><text transform="translate(265.8,150) rotate(-90)" font-size="16.5" textLength="115" lengthAdjust="spacingAndGlyphs">Thrombin (nM)</text>
<g fill="#111"><text x="57.4" y="318.3" text-anchor="end" font-size="18" stroke="#111" stroke-width="0.25" textLength="10.1" lengthAdjust="spacingAndGlyphs">0</text><text x="57.4" y="267.63" text-anchor="end" font-size="18" stroke="#111" stroke-width="0.25" textLength="20.7" lengthAdjust="spacingAndGlyphs">50</text><text x="57.4" y="216.97" text-anchor="end" font-size="18" stroke="#111" stroke-width="0.25" textLength="31.3" lengthAdjust="spacingAndGlyphs">100</text><text x="57.4" y="166.3" text-anchor="end" font-size="18" stroke="#111" stroke-width="0.25" textLength="31.3" lengthAdjust="spacingAndGlyphs">150</text><text x="57.4" y="115.63" text-anchor="end" font-size="18" stroke="#111" stroke-width="0.25" textLength="31.3" lengthAdjust="spacingAndGlyphs">200</text><text x="57.4" y="64.97" text-anchor="end" font-size="18" stroke="#111" stroke-width="0.25" textLength="31.3" lengthAdjust="spacingAndGlyphs">250</text><text x="57.4" y="14.3" text-anchor="end" font-size="18" stroke="#111" stroke-width="0.25" textLength="31.3" lengthAdjust="spacingAndGlyphs">300</text><text x="69.2" y="335" font-size="18" stroke="#111" stroke-width="0.25" textLength="8.8" lengthAdjust="spacingAndGlyphs">0</text><text x="156.5" y="335" font-size="18" stroke="#111" stroke-width="0.25" textLength="8.6" lengthAdjust="spacingAndGlyphs">5</text><text x="240.2" y="335" font-size="18" stroke="#111" stroke-width="0.25" textLength="19.7" lengthAdjust="spacingAndGlyphs">10</text><text x="326.5" y="335" font-size="18" stroke="#111" stroke-width="0.25" textLength="20.2" lengthAdjust="spacingAndGlyphs">15</text><text x="412.7" y="335" font-size="18" stroke="#111" stroke-width="0.25" textLength="19.6" lengthAdjust="spacingAndGlyphs">20</text><text x="498.8" y="335" font-size="18" stroke="#111" stroke-width="0.25" textLength="20.1" lengthAdjust="spacingAndGlyphs">25</text><text x="232.9" y="361.9" font-size="20" textLength="109" lengthAdjust="spacingAndGlyphs">Time (min)</text><text transform="translate(14.9,238.3) rotate(-90)" x="0" y="0" font-size="18" textLength="147.2" lengthAdjust="spacingAndGlyphs">Thrombin (nM)</text></g>
</svg>
</body></html>
